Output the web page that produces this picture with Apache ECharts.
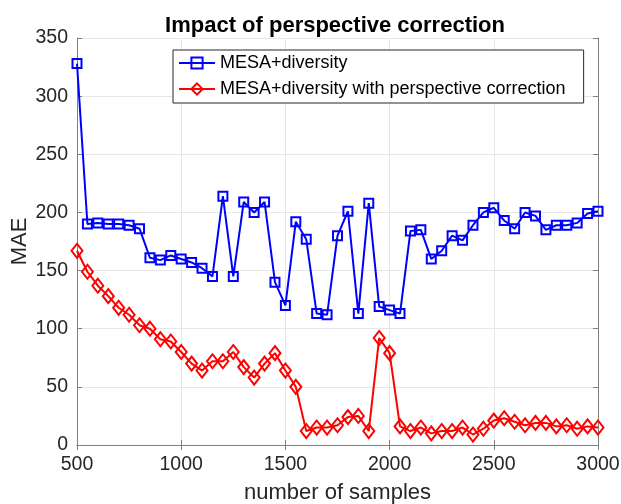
<!DOCTYPE html>
<html>
<head>
<meta charset="UTF-8">
<title>Impact of perspective correction</title>
<script src="https://cdn.jsdelivr.net/npm/echarts@6/dist/echarts.min.js"></script>
<style>
  html, body { margin: 0; padding: 0; background: #fff; }
  #main { width: 621px; height: 504px; }
</style>
</head>
<body>
<div id="main"></div>
<script>
// number of samples
var samples = [500, 550, 600, 650, 700, 750, 800, 850, 900, 950,
  1000, 1050, 1100, 1150, 1200, 1250, 1300, 1350, 1400, 1450,
  1500, 1550, 1600, 1650, 1700, 1750, 1800, 1850, 1900, 1950,
  2000, 2050, 2100, 2150, 2200, 2250, 2300, 2350, 2400, 2450,
  2500, 2550, 2600, 2650, 2700, 2750, 2800, 2850, 2900, 2950, 3000];

var mesa = [328, 190, 191, 190, 190, 189, 186, 161, 159, 163,
  160, 157, 152, 145, 214, 145, 209, 200, 209, 140,
  120, 192, 177, 113, 112, 180, 201, 113, 208, 119,
  116, 113, 184, 185, 160, 167, 180, 176, 189, 200,
  204, 193, 186, 200, 197, 185, 189, 189, 191, 199, 201];

var mesaPersp = [167, 149, 137, 128, 118, 112, 103, 100, 91, 89,
  80, 70, 64, 72, 72, 80, 67, 58, 70, 79,
  64, 50, 12, 15, 15, 17, 24, 25, 12, 92,
  79, 16, 12, 15, 10, 12, 12, 15, 9, 14,
  21, 23, 20, 17, 19, 19, 16, 17, 14, 16, 15];

var seriesNames = ['MESA+diversity', 'MESA+diversity with perspective correction'];

function pairs(ys) {
  return samples.map(function (x, i) { return [x, ys[i]]; });
}

var axisCol = '#262626';
var font = 'Liberation Sans';
var chart = echarts.init(document.getElementById('main'));

// top / right axes only close the box (matlab style)
var boxAxis = {
  axisLine: { show: true, lineStyle: { color: '#808080', width: 1 } },
  axisTick: { show: true, inside: true, length: 5, lineStyle: { color: '#808080' } },
  axisLabel: { show: false },
  splitLine: { show: false }
};

chart.setOption({
  backgroundColor: '#fff',
  animation: false,
  title: {
    text: 'Impact of perspective correction',
    left: 330, top: 10, textAlign: 'center',
    textStyle: { fontFamily: font, fontSize: 22, fontWeight: 'bold', color: '#000' }
  },
  legend: {
    left: 173, top: 50,
    orient: 'vertical',
    itemGap: 8,
    itemWidth: 36, itemHeight: 14,
    padding: [4, 18, 5, 5],
    borderColor: '#262626', borderWidth: 1,
    backgroundColor: '#fff',
    textStyle: { fontFamily: font, fontSize: 18, color: '#000' },
    data: seriesNames
  },
  grid: { left: 77, right: 23, top: 38, bottom: 59, containLabel: false, outerBoundsMode: 'none' },
  xAxis: [{
    type: 'value', min: 500, max: 3000, interval: 500,
    name: 'number of samples', nameLocation: 'middle', nameGap: 37,
    nameTextStyle: { fontFamily: font, fontSize: 22, color: axisCol },
    axisLine: { show: true, onZero: false, lineStyle: { color: '#808080' } },
    axisTick: { show: true, inside: true, length: 5, lineStyle: { color: '#808080' } },
    axisLabel: {
      fontFamily: font, fontSize: 19.5, color: axisCol, margin: 10,
      formatter: function (v) { return String(v); }
    },
    splitLine: { show: true, lineStyle: { color: '#e6e6e6', width: 1 } }
  }, Object.assign({
    type: 'value', position: 'top', min: 500, max: 3000, interval: 500
  }, boxAxis)],
  yAxis: [{
    type: 'value', min: 0, max: 350, interval: 50,
    name: 'MAE', nameLocation: 'middle', nameGap: 46, nameMoveOverlap: false,
    nameTextStyle: { fontFamily: font, fontSize: 22, color: axisCol },
    axisLine: { show: true, lineStyle: { color: '#808080' } },
    axisTick: { show: true, inside: true, length: 5, lineStyle: { color: '#808080' } },
    axisLabel: { fontFamily: font, fontSize: 19.5, color: axisCol, margin: 9 },
    splitLine: { show: true, lineStyle: { color: '#e6e6e6', width: 1 } }
  }, Object.assign({
    type: 'value', position: 'right', min: 0, max: 350, interval: 50
  }, boxAxis)],
  series: [{
    name: seriesNames[0],
    type: 'line',
    data: pairs(mesa),
    symbol: 'rect', symbolSize: 9,
    showAllSymbol: true,
    lineStyle: { color: '#0000ff', width: 2 },
    itemStyle: { color: 'rgba(255,255,255,0)', borderColor: '#0000ff', borderWidth: 2 },
    z: 3
  }, {
    name: seriesNames[1],
    type: 'line',
    data: pairs(mesaPersp),
    symbol: 'diamond', symbolSize: [11, 14],
    showAllSymbol: true,
    lineStyle: { color: '#ff0000', width: 2 },
    itemStyle: { color: 'rgba(255,255,255,0)', borderColor: '#ff0000', borderWidth: 2 },
    z: 2
  }]
});
</script>
</body>
</html>
